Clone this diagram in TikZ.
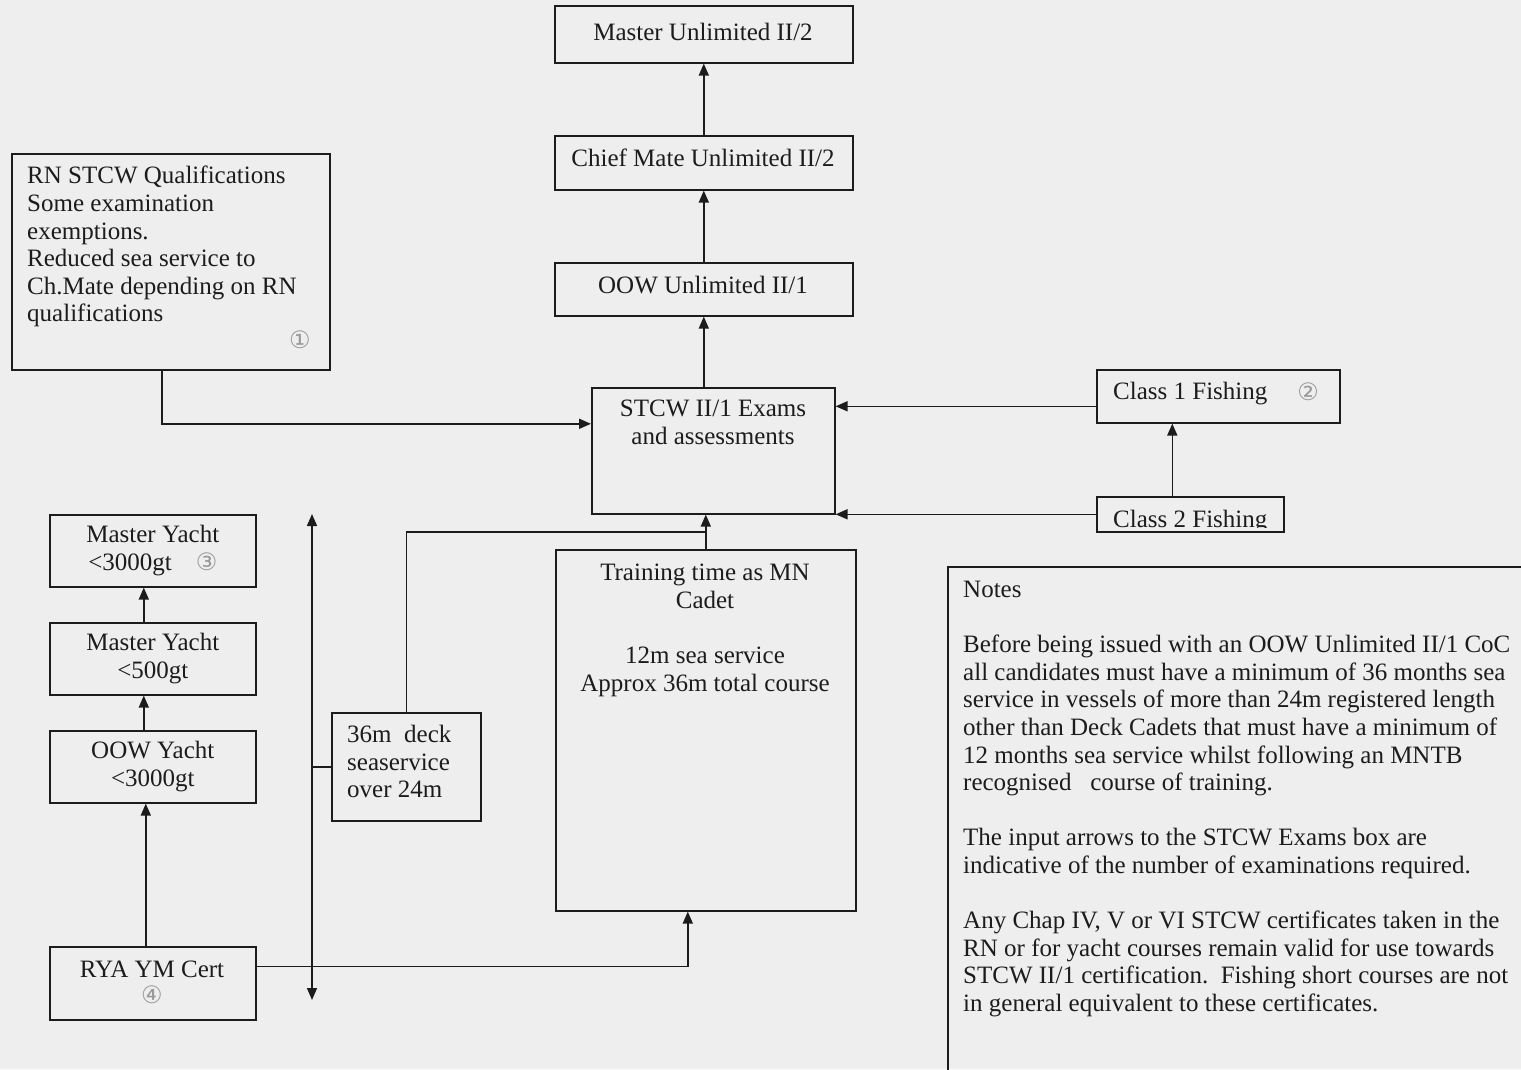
\documentclass[tikz,border=0pt]{standalone}
\usepackage{fontspec}
\setmainfont{Liberation Serif}
\newfontfamily\circfont{DejaVu Sans}
\usetikzlibrary{arrows.meta}
\definecolor{bg}{RGB}{238,238,238}
\definecolor{ink}{RGB}{28,28,28}
\newcommand{\cnum}[1]{{\color{black!40}\circfont\fontsize{24}{24}\selectfont #1}}
\begin{document}
\begin{tikzpicture}[x=1pt,y=-1pt,
  box/.style={draw=ink, line width=1.6pt, anchor=north west, inner sep=0pt,
    font=\fontsize{25}{27.6}\selectfont, align=center, text=ink},
  txt/.style={font=\fontsize{25}{27.6}\selectfont, inner sep=0pt, text=ink},
  circ/.style={inner sep=0pt},
  arr/.style={draw=ink, line width=1.6pt, -{Triangle[length=12pt,width=10pt]}},
  dbl/.style={draw=ink, line width=1.6pt, {Triangle[length=12pt,width=10pt]}-{Triangle[length=12pt,width=10pt]}},
  ln/.style={draw=ink, line width=1.6pt}]
\fill[bg] (0,0) rectangle (1521,1069);
\clip (0,0) rectangle (1521,1069);

% top column
\node[box, minimum width=298pt, minimum height=57pt] (mu) at (554,5) {};
\node[txt] (mu-t) at (703,32) {Master Unlimited II/2};
\node[box, minimum width=298pt, minimum height=54pt] (cm) at (554,135) {};
\node[txt] (cm-t) at (703,158) {Chief Mate Unlimited II/2};
\node[box, minimum width=298pt, minimum height=53pt] (oow) at (554,262) {};
\node[txt] (oow-t) at (703,285) {OOW Unlimited II/1};

% RN box
\node[box, minimum width=318pt, minimum height=216pt] (rn) at (11,153) {};
\node[txt, anchor=north west, align=left] (rn-t) at (27,166) {RN STCW Qualifications\\Some examination\\exemptions.\\Reduced sea service to\\Ch.Mate depending on RN\\qualifications};
\node[circ] (c1n) at (300,340) {\cnum{①}};

% STCW exams
\node[box, minimum width=243pt, minimum height=126pt] (stcw) at (591,387) {};
\node[txt, anchor=north, align=center] (stcw-t) at (713,400) {STCW II/1 Exams\\and assessments};

% Fishing
\node[box, minimum width=243pt, minimum height=53pt] (c1) at (1096,369) {};
\node[txt, anchor=west] (c1-t) at (1113,394) {Class 1 Fishing};
\node[circ] (c2n) at (1308,392) {\cnum{②}};
\node[box, minimum width=187pt, minimum height=35pt] (c2) at (1096,496) {};
\begin{scope}
\clip (1096,496) rectangle (1283,527);
\node[txt, anchor=base west] (c2-t) at (1113,527) {Class 2 Fishing};
\end{scope}

% Training
\node[box, minimum width=300pt, minimum height=361pt] (tr) at (555,549) {};
\node[txt, anchor=north, align=center] (tr-t) at (705,564) {Training time as MN\\Cadet\\[27.6pt]12m sea service\\Approx 36m total course};

% Yacht column
\node[box, minimum width=206pt, minimum height=72pt] (my3) at (49,514) {Master Yacht\\{<}3000gt\hspace{24pt}\cnum{③}};
\node[box, minimum width=206pt, minimum height=72pt] (my5) at (49,622) {Master Yacht\\{<}500gt};
\node[box, minimum width=206pt, minimum height=72pt] (oy) at (49,730) {OOW Yacht\\{<}3000gt};
\node[box, minimum width=206pt, minimum height=73pt] (rya) at (49,946) {};
\node[txt] (rya-t) at (152,969) {RYA YM Cert};
\node[circ] (c4n) at (152,995) {\cnum{④}};

% 36m deck
\node[box, minimum width=149pt, minimum height=108pt] (d36) at (331,712) {};
\node[txt, anchor=north west, align=left] (d36-t) at (347,725) {36m\ \ deck\\seaservice\\over 24m};

% Notes
\node[box, minimum width=700pt, minimum height=600pt] (notes) at (947,566) {};
\node[txt, anchor=north west, align=left] (notes-t) at (963,581) {Notes\\[27.6pt]Before being issued with an OOW Unlimited II/1 CoC\\all candidates must have a minimum of 36 months sea\\service in vessels of more than 24m registered length\\other than Deck Cadets that must have a minimum of\\12 months sea service whilst following an MNTB\\recognised\ \ \ course of training.\\[27.6pt]The input arrows to the STCW Exams box are\\indicative of the number of examinations required.\\[27.6pt]Any Chap IV, V or VI STCW certificates taken in the\\RN or for yacht courses remain valid for use towards\\STCW II/1 certification.\ \ Fishing short courses are not\\in general equivalent to these certificates.};

% connectors
\draw[arr] (cm.north) -- (mu.south);
\draw[arr] (oow.north) -- (cm.south);
\draw[arr] (oow.south |- stcw.north) -- (oow.south);
\draw[arr] ([xshift=-9pt]rn.south) |- ([yshift=27pt]stcw.west);
\draw[arr] ([yshift=-10pt]c1.west) -- ([yshift=-10pt]c1.west -| stcw.east);
\draw[arr] (c2.west) -- (c2.west -| stcw.east);
\draw[arr] ([xshift=-18pt]c2.north) -- ([xshift=-18pt]c2.north |- c1.south);
\draw[arr] (tr.north) -- (tr.north |- stcw.south);
\draw[ln] (d36.north) |- ([yshift=17pt]tr.north);
\coordinate (vtop) at (312,514);
\coordinate (vbot) at (312,1000);
\draw[dbl] (vbot) -- (vtop);
\draw[ln] (d36.west) -- (d36.west -| vtop);
\draw[arr] ([xshift=-9pt]oy.north) -- ([xshift=-9pt]my5.south);
\draw[arr] ([xshift=-9pt]my5.north) -- ([xshift=-9pt]my3.south);
\draw[arr] ([xshift=-7pt]rya.north) -- ([xshift=-7pt]oy.south);
\draw[arr] ([yshift=17pt]rya.east) -| ([xshift=-18pt]tr.south);
\end{tikzpicture}
\end{document}
